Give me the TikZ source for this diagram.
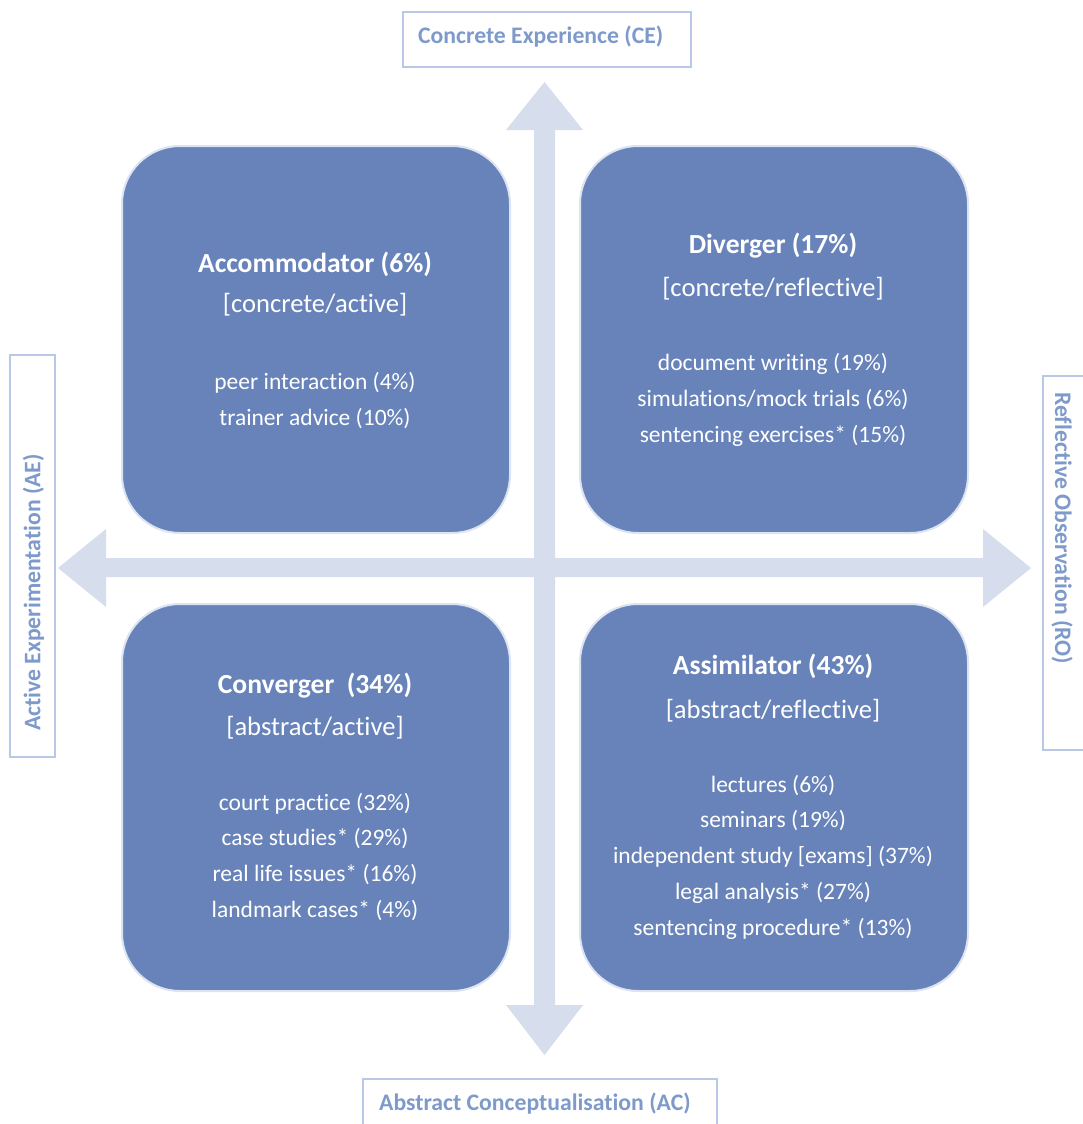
\documentclass[tikz,border=0pt]{standalone}
\usepackage{fontspec}
\setmainfont{Carlito}[Ligatures=NoCommon]
\definecolor{quadfill}{HTML}{6783BA}
\definecolor{quadline}{HTML}{DCE3F1}
\definecolor{arrowfill}{HTML}{D6DDEC}
\definecolor{labline}{HTML}{B9C8E4}
\definecolor{labtext}{HTML}{7E9ACB}
\begin{document}
\begin{tikzpicture}[x=1pt,y=-1pt,
  quad/.style={draw=quadline, line width=2pt, fill=quadfill, rounded corners=58pt,
    minimum width=388pt, minimum height=387pt, inner sep=0pt, outer sep=0pt},
  labbox/.style={draw=labline, line width=1.5pt, fill=white, inner sep=0pt},
  labtxt/.style={text=labtext, font=\bfseries\fontsize{23.7}{28}\selectfont, inner sep=0pt},
  head/.style={text=white, anchor=base, inner sep=0pt, font=\bfseries\fontsize{27.6}{32}\selectfont},
  sub/.style={text=white, anchor=base, inner sep=0pt, font=\fontsize{26.6}{32}\selectfont},
  item/.style={text=white, anchor=base, inner sep=0pt, font=\fontsize{23.5}{28}\selectfont},
  axis/.style={fill=arrowfill, draw=none}]
\useasboundingbox (0,0) rectangle (1082,1124);
\fill[white] (0,0) rectangle (1082,1124);

% axes (double arrows)
\fill[axis] (534,130) -- (506,130) -- (544.5,82) -- (583,130) -- (555,130)
  -- (555,1005) -- (583,1005) -- (544.5,1055) -- (506,1005) -- (534,1005) -- cycle;
\fill[axis] (106,558) -- (106,529) -- (58,568) -- (106,607) -- (106,577)
  -- (983,577) -- (983,607) -- (1031,568) -- (983,529) -- (983,558) -- cycle;

% quadrants
\node[quad] (acc) at (316,339.5) {};
\node[quad] (div) at (774,339.5) {};
\node[quad] (con) at (316,797.5) {};
\node[quad] (ass) at (774,797.5) {};

% Accommodator
\node[head] (acch) at (315,272) {Accommodator (6\%)};
\node[sub]  (accs) at (315,312) {[concrete/active]};
\node[item] (acc1) at (315,389) {peer interaction (4\%)};
\node[item] (acc2) at (315,425) {trainer advice (10\%)};

% Diverger
\node[head] (divh) at (773,253) {Diverger (17\%)};
\node[sub]  (divs) at (773,296) {[concrete/reflective]};
\node[item] (div1) at (773,370) {document writing (19\%)};
\node[item] (div2) at (773,406) {simulations/mock trials (6\%)};
\node[item] (div3) at (773,442) {sentencing exercises* (15\%)};

% Converger
\node[head] (conh) at (315,693) {Converger\ \ (34\%)};
\node[sub]  (cons) at (315,735) {[abstract/active]};
\node[item] (con1) at (315,810) {court practice (32\%)};
\node[item] (con2) at (315,845) {case studies* (29\%)};
\node[item] (con3) at (315,881) {real life issues* (16\%)};
\node[item] (con4) at (315,917) {landmark cases* (4\%)};

% Assimilator
\node[head] (assh) at (773,674) {Assimilator (43\%)};
\node[sub]  (asss) at (773,718) {[abstract/reflective]};
\node[item] (ass1) at (773,792) {lectures (6\%)};
\node[item] (ass2) at (773,827) {seminars (19\%)};
\node[item] (ass3) at (773,863) {independent study [exams] (37\%)};
\node[item] (ass4) at (773,899) {legal analysis* (27\%)};
\node[item] (ass5) at (773,935) {sentencing procedure* (13\%)};

% axis labels
\node[labbox, minimum width=288pt, minimum height=55pt] (ceb) at (547,39.5) {};
\node[labtxt, anchor=base west] (cet) at (418,44) {Concrete Experience (CE)};

\node[labbox, minimum width=354pt, minimum height=70pt] (acb) at (540,1114) {};
\node[labtxt, anchor=base west] (act) at (379,1110) {Abstract Conceptualisation (AC)};

\node[labbox, minimum width=45pt, minimum height=402pt] (aeb) at (32.5,556) {};
\node[labtxt, rotate=90, anchor=west] (aet) at (33.5,731) {Active Experimentation (AE)};

\node[labbox, minimum width=60pt, minimum height=374pt] (rob) at (1073,563) {};
\node[labtxt, rotate=-90, anchor=west] (rot) at (1062,392) {Reflective Observation (RO)};
\end{tikzpicture}
\end{document}
